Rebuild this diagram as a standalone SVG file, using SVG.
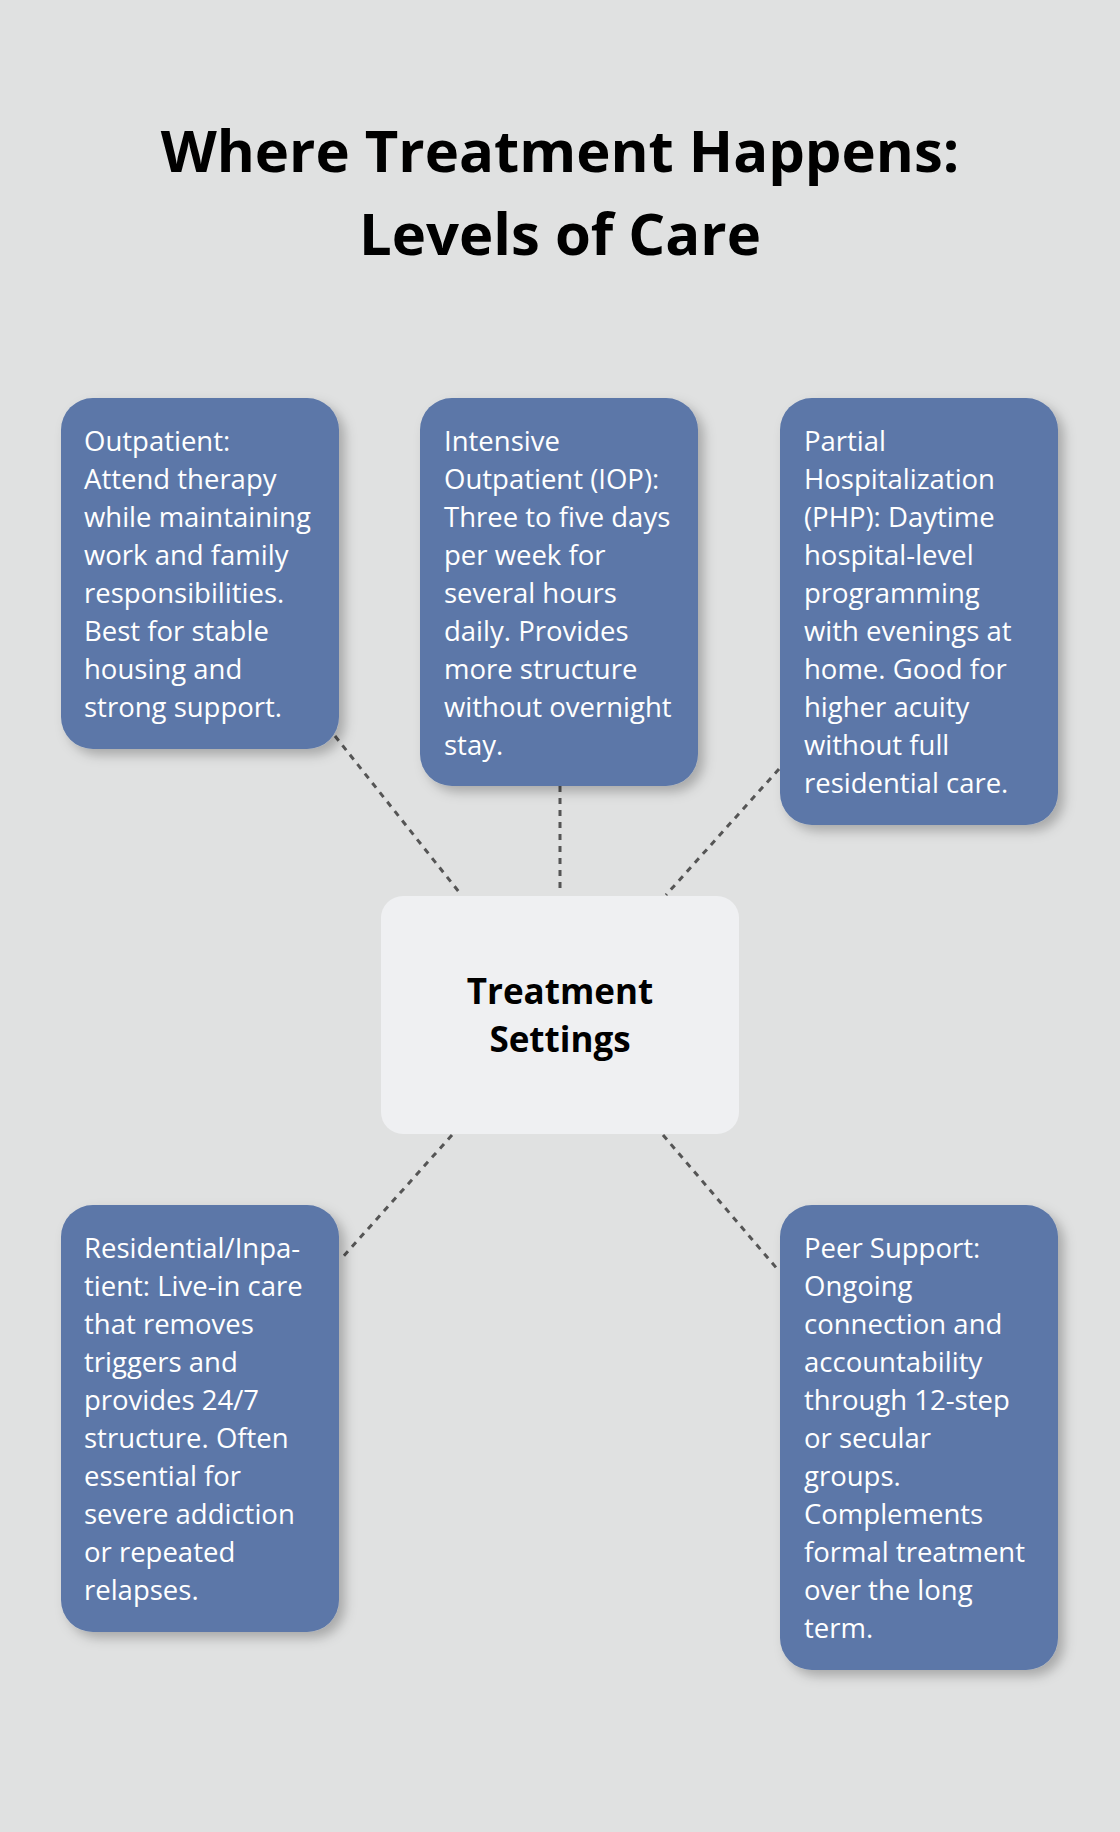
<svg xmlns="http://www.w3.org/2000/svg" width="1120" height="1832" viewBox="0 0 1120 1832">
<style>
.title{font-family:"Open Sans","Noto Sans",sans-serif;font-weight:700;font-size:58px;fill:#000;text-anchor:middle}
.box{fill:#5b77a8;filter:url(#sh)}
.t{font-family:"Open Sans","Noto Sans",sans-serif;font-size:27.5px;fill:#fff}
.c{font-family:"Open Sans","Noto Sans",sans-serif;font-weight:700;font-size:35px;fill:#000;text-anchor:middle}
.ln{stroke:#555;stroke-width:3;stroke-dasharray:6 6;fill:none}
</style>
<defs><filter id="sh" x="-20%" y="-20%" width="150%" height="150%"><feDropShadow dx="6" dy="6" stdDeviation="6" flood-color="#000" flood-opacity="0.25"/></filter></defs>
<rect width="1120" height="1832" fill="#e0e1e1"/>
<text class="title" x="560" y="172">Where Treatment Happens:</text>
<text class="title" x="560" y="255">Levels of Care</text>
<g id="connectors">
<line class="ln" x1="335" y1="736" x2="459" y2="892"/>
<line class="ln" x1="560" y1="786" x2="560" y2="892"/>
<line class="ln" x1="779" y1="769" x2="666" y2="895"/>
<line class="ln" x1="452" y1="1135" x2="341" y2="1259"/>
<line class="ln" x1="663" y1="1135" x2="779" y2="1271"/>
</g>
<g id="center"><rect x="381" y="896" width="358" height="238" rx="22" fill="#eff0f2"/>
<text class="c" x="560" y="1004">Treatment</text><text class="c" x="560" y="1052">Settings</text></g>
<g id="outpatient"><rect class="box" x="61" y="398" width="278" height="351" rx="32"/>
<text class="t"><tspan x="84" y="451">Outpatient:</tspan><tspan x="84" dy="38">Attend therapy</tspan><tspan x="84" dy="38">while maintaining</tspan><tspan x="84" dy="38">work and family</tspan><tspan x="84" dy="38">responsibilities.</tspan><tspan x="84" dy="38">Best for stable</tspan><tspan x="84" dy="38">housing and</tspan><tspan x="84" dy="38">strong support.</tspan></text></g>
<g id="iop"><rect class="box" x="420" y="398" width="278" height="388" rx="32"/>
<text class="t"><tspan x="444" y="451">Intensive</tspan><tspan x="444" dy="38">Outpatient (IOP):</tspan><tspan x="444" dy="38">Three to five days</tspan><tspan x="444" dy="38">per week for</tspan><tspan x="444" dy="38">several hours</tspan><tspan x="444" dy="38">daily. Provides</tspan><tspan x="444" dy="38">more structure</tspan><tspan x="444" dy="38">without overnight</tspan><tspan x="444" dy="38">stay.</tspan></text></g>
<g id="php"><rect class="box" x="780" y="398" width="278" height="427" rx="32"/>
<text class="t"><tspan x="804" y="451">Partial</tspan><tspan x="804" dy="38">Hospitalization</tspan><tspan x="804" dy="38">(PHP): Daytime</tspan><tspan x="804" dy="38">hospital-level</tspan><tspan x="804" dy="38">programming</tspan><tspan x="804" dy="38">with evenings at</tspan><tspan x="804" dy="38">home. Good for</tspan><tspan x="804" dy="38">higher acuity</tspan><tspan x="804" dy="38">without full</tspan><tspan x="804" dy="38">residential care.</tspan></text></g>
<g id="residential"><rect class="box" x="61" y="1205" width="278" height="427" rx="32"/>
<text class="t"><tspan x="84" y="1258">Residential/Inpa-</tspan><tspan x="84" dy="38">tient: Live-in care</tspan><tspan x="84" dy="38">that removes</tspan><tspan x="84" dy="38">triggers and</tspan><tspan x="84" dy="38">provides 24/7</tspan><tspan x="84" dy="38">structure. Often</tspan><tspan x="84" dy="38">essential for</tspan><tspan x="84" dy="38">severe addiction</tspan><tspan x="84" dy="38">or repeated</tspan><tspan x="84" dy="38">relapses.</tspan></text></g>
<g id="peer"><rect class="box" x="780" y="1205" width="278" height="465" rx="32"/>
<text class="t"><tspan x="804" y="1258">Peer Support:</tspan><tspan x="804" dy="38">Ongoing</tspan><tspan x="804" dy="38">connection and</tspan><tspan x="804" dy="38">accountability</tspan><tspan x="804" dy="38">through 12-step</tspan><tspan x="804" dy="38">or secular</tspan><tspan x="804" dy="38">groups.</tspan><tspan x="804" dy="38">Complements</tspan><tspan x="804" dy="38">formal treatment</tspan><tspan x="804" dy="38">over the long</tspan><tspan x="804" dy="38">term.</tspan></text></g>
</svg>
